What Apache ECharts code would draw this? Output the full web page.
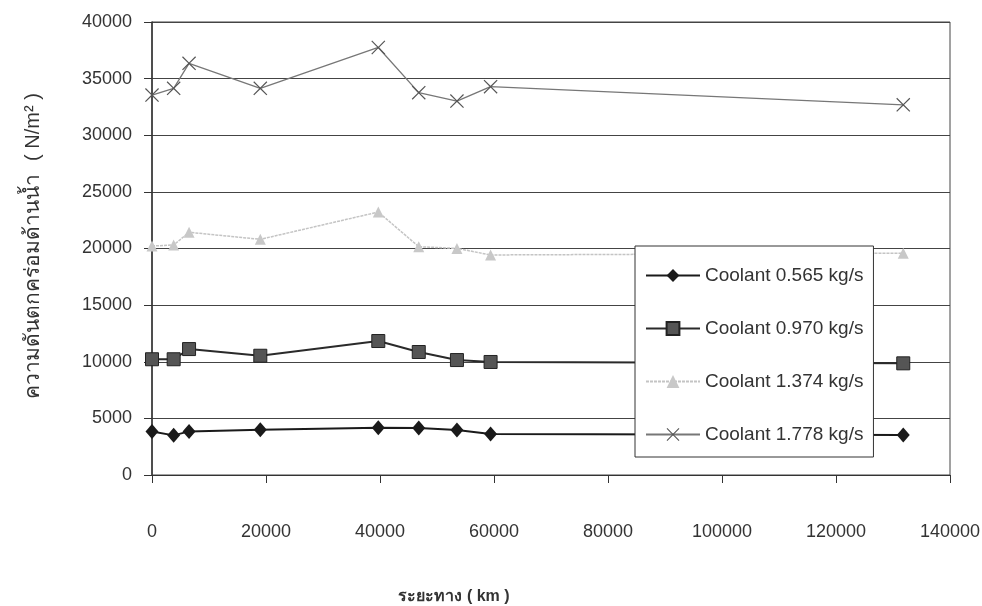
<!DOCTYPE html>
<html>
<head>
<meta charset="utf-8">
<script src="https://cdn.jsdelivr.net/npm/echarts@6/dist/echarts.min.js"></script>
<style>html,body{margin:0;padding:0;background:#fff}#c{width:982px;height:606px}</style>
</head>
<body>
<div id="c"></div>
<script>
const distance = [0, 3800, 6500, 19000, 39700, 46800, 53500, 59400, 131800];
const coolant0565 = [3850, 3500, 3850, 4000, 4180, 4150, 3970, 3620, 3530];
const coolant0970 = [10220, 10220, 11120, 10530, 11830, 10860, 10150, 9980, 9860];
const coolant1374 = [20220, 20310, 21430, 20810, 23220, 20160, 20010, 19430, 19580];
const coolant1778 = [33550, 34140, 36350, 34140, 37750, 33760, 33020, 34290, 32690];
const seriesNames = ['Coolant 0.565 kg/s', 'Coolant 0.970 kg/s', 'Coolant 1.374 kg/s', 'Coolant 1.778 kg/s'];
const xTitle = 'ระยะทาง ( km )';
const yTitleThai = 'ความดันตกคร่อมด้านน้ำ';
const yTitleUnit = '( N/m² )';

const pair = arr => distance.map((d, i) => [d, arr[i]]);
const xPath = 'path://M0,0.6 L0.6,0 L5,4.4 L9.4,0 L10,0.6 L5.6,5 L10,9.4 L9.4,10 L5,5.6 L0.6,10 L0,9.4 L4.4,5 Z';
const font = 'Liberation Sans, Arial, sans-serif';

const chart = echarts.init(document.getElementById('c'), null, {renderer: 'canvas'});
chart.setOption({
  backgroundColor: '#fff',
  animation: false,
  grid: {left: 152, right: 32, top: 22, bottom: 131, outerBoundsMode: 'none', containLabel: false,
         show: true, borderColor: '#444', borderWidth: 1, backgroundColor: 'transparent'},
  xAxis: {
    type: 'value', min: 0, max: 140000, interval: 20000,
    axisLine: {show: true, lineStyle: {color: '#333', width: 1}},
    axisTick: {show: true, length: 8, lineStyle: {color: '#333'}},
    axisLabel: {color: '#333', fontSize: 18, fontFamily: font, margin: 48, formatter: v => String(v)},
    splitLine: {show: false}
  },
  yAxis: {
    type: 'value', min: 0, max: 40000, interval: 5000,
    axisLine: {show: true, lineStyle: {color: '#333', width: 1.5}},
    axisTick: {show: true, length: 8, lineStyle: {color: '#333'}},
    axisLabel: {color: '#333', fontSize: 18, fontFamily: font, margin: 20, formatter: v => String(v)},
    splitLine: {show: true, lineStyle: {color: '#444', width: 1}}
  },
  legend: {
    z: 20, zlevel: 0,
    orient: 'vertical', left: 635, top: 246,
    backgroundColor: '#fff', borderColor: '#333', borderWidth: 1, borderRadius: 0,
    padding: [20, 10, 13, 10],
    itemWidth: 54, itemHeight: 16, itemGap: 34,
    textStyle: {color: '#333', fontSize: 19, fontFamily: font, lineHeight: 19},
    data: seriesNames
  },
  series: [
    {name: seriesNames[0], type: 'line', data: pair(coolant0565), symbol: 'diamond', symbolSize: [13, 15],
     lineStyle: {color: '#1a1a1a', width: 2}, itemStyle: {color: '#1a1a1a'}, z: 5},
    {name: seriesNames[1], type: 'line', data: pair(coolant0970), symbol: 'rect', symbolSize: 13,
     lineStyle: {color: '#2a2a2a', width: 2}, itemStyle: {color: '#555', borderColor: '#222', borderWidth: 1}, z: 4},
    {name: seriesNames[2], type: 'line', data: pair(coolant1374), symbol: 'triangle', symbolSize: 11,
     lineStyle: {color: '#c4c4c4', width: 1.5, type: [3, 1]}, itemStyle: {color: '#c8c8c8'}, z: 3},
    {name: seriesNames[3], type: 'line', data: pair(coolant1778), symbol: xPath, symbolSize: 14,
     lineStyle: {color: '#777', width: 1.3}, itemStyle: {color: '#555'}, z: 2}
  ],
  graphic: [
    {type: 'text', x: 454, y: 597, style: {text: xTitle, fontSize: 16, fontWeight: 'bold', fill: '#333', fontFamily: font, align: 'center', verticalAlign: 'middle'}},
    {type: 'text', x: 33, y: 286, rotation: Math.PI / 2, style: {text: yTitleThai, fontSize: 21, fill: '#333', fontFamily: font, align: 'center', verticalAlign: 'middle'}},
    {type: 'text', x: 33, y: 127, rotation: Math.PI / 2, style: {text: yTitleUnit, fontSize: 20, fill: '#333', fontFamily: font, align: 'center', verticalAlign: 'middle'}}
  ]
});
</script>
</body>
</html>
